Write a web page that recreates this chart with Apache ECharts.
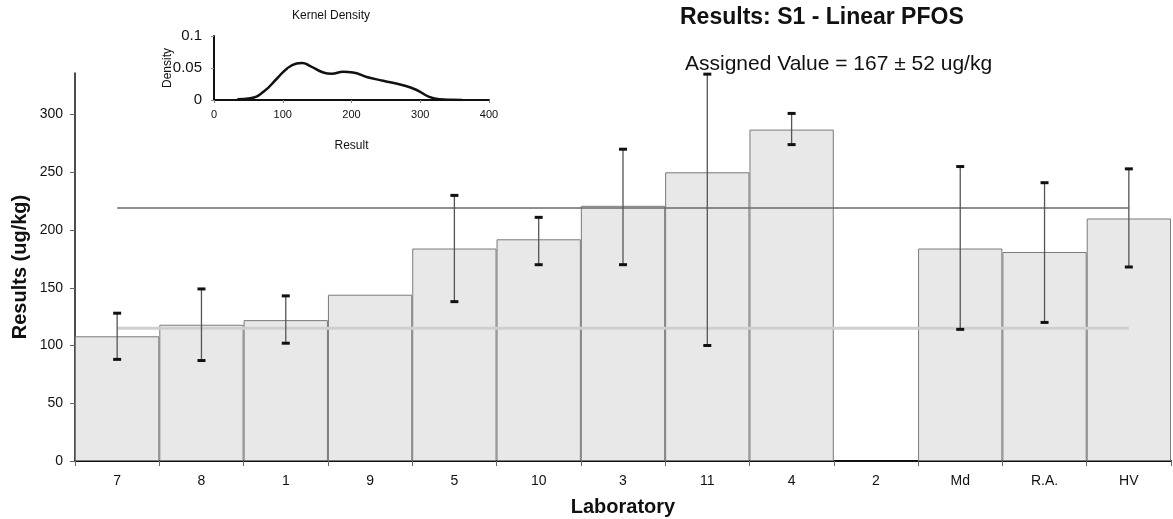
<!DOCTYPE html>
<html><head><meta charset="utf-8">
<script src="https://cdn.jsdelivr.net/npm/echarts@6/dist/echarts.min.js"></script>
<style>html,body{margin:0;padding:0;background:#fff}#c{width:1173px;height:519px}</style>
</head><body><div id="c"></div>
<script>
const categories = ['7','8','1','9','5','10','3','11','4','2','Md','R.A.','HV'];
const results    = [108, 118, 122, 144, 184, 192, 221, 250, 287, null, 184, 181, 210];
const errLow     = [88, 87, 102, null, 138, 170, 170, 100, 274, null, 114, 120, 168];
const errHigh    = [128, 149, 143, null, 230, 211, 270, 335, 301, null, 255, 241, 253];
const assignedValue = 167;
const assignedUnc = 52;
const yTicks = [0, 50, 100, 150, 200, 250, 300];
const kdeX = [34, 53, 72, 92, 106, 120, 128, 140, 159, 171, 188, 202, 222, 246, 275, 294, 313, 328, 345, 361];
const kdeY = [0.001, 0.0026, 0.013, 0.034, 0.049, 0.057, 0.058, 0.053, 0.043, 0.041, 0.044, 0.043, 0.036, 0.030, 0.023, 0.016, 0.005, 0.001, 0.0002, 0];

const upper = categories.map(() => assignedValue + assignedUnc);
const lower = categories.map(() => assignedValue - assignedUnc);
const errData = categories.map((c, i) => [i, errLow[i], errHigh[i]]).filter(d => d[1] != null);
const kde = kdeX.map((x, i) => [x, kdeY[i]]);

const F = 'Liberation Sans, Arial, sans-serif';
const chart = echarts.init(document.getElementById('c'), null, {renderer: 'canvas'});
chart.setOption({
  animation: false,
  backgroundColor: '#fff',
  title: [
    {text: 'Results: S1 - Linear PFOS', left: 675, top: 1,
     textStyle: {fontFamily: F, fontSize: 23, fontWeight: 'bold', color: '#111'}},
    {text: 'Assigned Value = ' + assignedValue + ' \u00b1 ' + assignedUnc + ' ug/kg', left: 680, top: 49,
     textStyle: {fontFamily: F, fontSize: 21, fontWeight: 'normal', color: '#111'}},
    {text: 'Kernel Density', left: 287, top: 5,
     textStyle: {fontFamily: F, fontSize: 12, fontWeight: 'normal', color: '#111'}}
  ],
  grid: [
    {left: 75, right: 2, top: 73, bottom: 58, outerBoundsMode: 'none'},
    {left: 214, width: 275, top: 36, height: 64, outerBoundsMode: 'none'}
  ],
  xAxis: [
    {type: 'category', data: categories, gridIndex: 0,
     name: 'Laboratory', nameLocation: 'middle', nameGap: 36,
     nameTextStyle: {fontFamily: F, fontSize: 20, fontWeight: 'bold', color: '#111'},
     axisLine: {lineStyle: {color: '#111', width: 2}},
     axisTick: {show: true, length: 5, lineStyle: {color: '#666'}},
     axisLabel: {fontFamily: F, fontSize: 14, color: '#111', margin: 13}},
    {type: 'value', gridIndex: 1, min: 0, max: 400, interval: 100,
     name: 'Result', nameLocation: 'middle', nameGap: 40,
     nameTextStyle: {fontFamily: F, fontSize: 12, color: '#111'},
     axisLine: {lineStyle: {color: '#111', width: 2}},
     axisTick: {show: true, length: 3, lineStyle: {color: '#888'}},
     axisLabel: {fontFamily: F, fontSize: 11, color: '#111', margin: 9},
     splitLine: {show: false}}
  ],
  yAxis: [
    {type: 'value', gridIndex: 0, min: 0, max: 336,
     name: 'Results (ug/kg)', nameLocation: 'middle', nameGap: 45, nameMoveOverlap: false,
     nameTextStyle: {fontFamily: F, fontSize: 20, fontWeight: 'bold', color: '#111'},
     axisLine: {show: true, lineStyle: {color: '#111', width: 1.5}},
     axisTick: {show: true, length: 5, customValues: yTicks, lineStyle: {color: '#666'}},
     axisLabel: {fontFamily: F, fontSize: 14, color: '#111', margin: 12, customValues: yTicks},
     splitLine: {show: false}},
    {type: 'value', gridIndex: 1, min: 0, max: 0.1, interval: 0.05,
     name: 'Density', nameLocation: 'middle', nameGap: 40, nameMoveOverlap: false,
     nameTextStyle: {fontFamily: F, fontSize: 12, color: '#111'},
     axisLine: {show: true, lineStyle: {color: '#111', width: 2}},
     axisTick: {show: true, length: 3, lineStyle: {color: '#888'}},
     axisLabel: {fontFamily: F, fontSize: 15, color: '#111', margin: 12},
     splitLine: {show: false}}
  ],
  series: [
    {type: 'bar', xAxisIndex: 0, yAxisIndex: 0, data: results, barCategoryGap: '0%',
     itemStyle: {color: '#e8e8e8', borderColor: '#7a7a7a', borderWidth: 1}, z: 2},
    {type: 'line', xAxisIndex: 0, yAxisIndex: 0, data: lower, symbol: 'none',
     lineStyle: {color: '#cfcfcf', width: 3}, z: 3},
    {type: 'line', xAxisIndex: 0, yAxisIndex: 0, data: upper, symbol: 'none',
     lineStyle: {color: '#6a6a6a', width: 1.5}, z: 3},
    {type: 'custom', xAxisIndex: 0, yAxisIndex: 0, data: errData, z: 4,
     renderItem: function (params, api) {
       const x = api.value(0);
       const lo = api.coord([x, api.value(1)]);
       const hi = api.coord([x, api.value(2)]);
       const w = 4;
       return {type: 'group', children: [
         {type: 'line', shape: {x1: lo[0], y1: lo[1], x2: hi[0], y2: hi[1]},
          style: {stroke: '#555', lineWidth: 1.3}},
         {type: 'rect', shape: {x: hi[0] - w, y: hi[1] - 1.5, width: 2 * w, height: 3},
          style: {fill: '#111'}},
         {type: 'rect', shape: {x: lo[0] - w, y: lo[1] - 1.5, width: 2 * w, height: 3},
          style: {fill: '#111'}}
       ]};
     }},
    {type: 'line', xAxisIndex: 1, yAxisIndex: 1, data: kde, symbol: 'none', smooth: true,
     lineStyle: {color: '#111', width: 2.5}, z: 5}
  ]
});
</script></body></html>
